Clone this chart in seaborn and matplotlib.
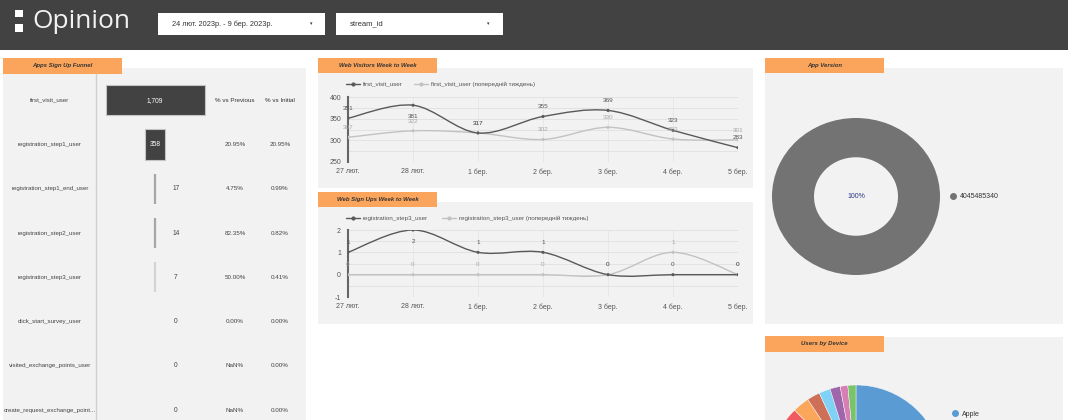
import numpy as np
import matplotlib.pyplot as plt
import matplotlib.patches as mpatches
import matplotlib.transforms as mtransforms
from matplotlib.path import Path
from matplotlib.lines import Line2D
from matplotlib.ticker import MultipleLocator
import seaborn as sns

# ---- data ----
funnel_steps = ['first_visit_user', 'registration_step1_user', 'registration_step1_end_user',
                'registration_step2_user', 'registration_step3_user', 'click_start_survey_user',
                'visited_exchange_points_user', 'create_request_exchange_point...']
funnel_users = [1709, 358, 17, 14, 7, 0, 0, 0]

days = ['27 лют.', '28 лют.', '1 бер.', '2 бер.', '3 бер.', '4 бер.', '5 бер.']
visitors = [351, 381, 317, 355, 369, 323, 283]
visitors_prev = [307, 322, 317, 302, 330, 303, 301]
signups = [1, 2, 1, 1, 0, 0, 0]
signups_prev = [0, 0, 0, 0, 0, 1, 0]

app_versions = ['4045485340']
app_version_users = [1709]

devices = ['Apple', 'Samsung', 'Xiaomi', 'Google', 'Huawei', 'OnePlus', 'Motorola',
           'Oppo', 'Realme', 'Nokia', 'Sony']
device_users = [472, 172, 117, 89, 28, 31, 24, 21, 19, 14, 15]
device_colors = ['#5a9bd4', '#737373', '#f0c44c', '#4fb6a5', '#f15a60', '#faa75b', '#ce7058',
                 '#7fd1f5', '#9e67ab', '#d77fb4', '#7ac36a']

sns.set_style('white')
plt.rcParams['font.family'] = ['Liberation Sans', 'DejaVu Sans']
plt.rcParams['axes.unicode_minus'] = False

W, H = 1068, 420
fig = plt.figure(figsize=(W / 100, H / 100), dpi=100)
fig.patch.set_facecolor('white')

PANEL = '#f2f2f2'
TAB = '#fba55c'
DARK = '#595959'
LIGHT = '#c2c2c2'


def box(x0, y0, x1, y1):
    return [x0 / W, 1 - y1 / H, (x1 - x0) / W, (y1 - y0) / H]


def rect(x0, y0, x1, y1, color):
    fig.add_artist(mpatches.Rectangle((x0 / W, 1 - y1 / H), (x1 - x0) / W, (y1 - y0) / H,
                                      transform=fig.transFigure, facecolor=color, lw=0, zorder=-1))


def ftext(x, y, s, **kw):
    fig.text(x / W, 1 - y / H, s, **kw)


def tab(x0, y0, x1, y1, title):
    rect(x0, y0, x1, y1, TAB)
    ftext((x0 + x1) / 2, (y0 + y1) / 2, title, ha='center', va='center', fontsize=4.3,
          fontweight='bold', fontstyle='italic', color='#333333')


# header
rect(0, 0, W, 50, '#424242')
rect(15, 10, 23, 17, 'white')
rect(15, 24, 23, 32, 'white')
ftext(32, 22, 'Opinion', ha='left', va='center', fontsize=19, color='#f2f2f2', family='Open Sans')
rect(158, 13, 325, 35, 'white')
ftext(172, 24, '24 лют. 2023р. - 9 бер. 2023р.', ha='left', va='center', fontsize=5.3, color='#333333')
ftext(311, 24, '▾', ha='center', va='center', fontsize=3.5, color='#333333', family='DejaVu Sans')
rect(336, 13, 503, 35, 'white')
ftext(350, 24, 'stream_id', ha='left', va='center', fontsize=5.5, color='#333333')
ftext(488, 24, '▾', ha='center', va='center', fontsize=3.5, color='#333333', family='DejaVu Sans')

# panels
rect(3, 68, 306, 420, PANEL)
tab(3, 58, 122, 74, 'Apps Sign Up Funnel')
rect(318, 68, 753, 188, PANEL)
tab(318, 58, 437, 73, 'Web Visitors Week to Week')
rect(318, 202, 753, 324, PANEL)
tab(318, 192, 437, 207, 'Web Sign Ups Week to Week')
rect(765, 68, 1063, 324, PANEL)
tab(765, 58, 884, 73, 'App Version')
rect(765, 337, 1063, 420, PANEL)
tab(765, 336, 884, 352, 'Users by Device')
fig.add_artist(Line2D([95.5 / W, 95.5 / W], [1 - 74 / H, 0], transform=fig.transFigure,
                      color='#cfcfcf', lw=1))

# ---- funnel ----
axf = fig.add_axes(box(100, 78, 210, 420))
users = np.array(funnel_users, dtype=float)
rows = np.arange(len(users))
half = users.max() / 2 * 55 / 49.5
big = users / users.max() * 99 > 15
small = (users > 0) & ~big
axf.barh(rows[big], users[big], left=-users[big] / 2, height=0.68, color='#424242',
         edgecolor='#c4c4c4', lw=0.8)
small_colors = ['#a6a6a6' if v > 10 else '#d4d4d4' for v in users[small]]
axf.barh(rows[small], users[small], left=-users[small] / 2, height=0.68, color=small_colors,
         edgecolor=small_colors, lw=1.6)
axf.set_xlim(-half, half)
axf.set_ylim(7.22, -0.5)
axf.axis('off')
trans = mtransforms.blended_transform_factory(fig.transFigure, axf.transData)
axf.text(235 / W, 0, '% vs Previous', transform=trans, ha='center', va='center', fontsize=4.5, color='#333333')
axf.text(280 / W, 0, '% vs Initial', transform=trans, ha='center', va='center', fontsize=4.5, color='#333333')
for i, (step, v) in enumerate(zip(funnel_steps, funnel_users)):
    axf.text(50 / W, i, step, transform=trans, ha='center', va='center', fontsize=4.4, color='#444444')
    if big[i]:
        axf.text(0, i, f'{v:,}', ha='center', va='center', fontsize=4.8, color='white')
    else:
        axf.annotate(f'{v:,}', (0, i), xytext=(15, 0), textcoords='offset points',
                     ha='center', va='center', fontsize=4.8, color='#444444')
    if i > 0:
        prev = funnel_users[i - 1]
        vs_prev = 'NaN%' if prev == 0 else f'{v / prev * 100:.2f}%'
        vs_init = f'{v / funnel_users[0] * 100:.2f}%'
        axf.text(235 / W, i, vs_prev, transform=trans, ha='center', va='center', fontsize=4.5, color='#444444')
        axf.text(280 / W, i, vs_init, transform=trans, ha='center', va='center', fontsize=4.5, color='#444444')


# ---- line charts ----
def smooth_path(ys):
    pts = np.column_stack([np.arange(len(ys)), ys]).astype(float)
    n = len(pts)
    verts, codes = [pts[0]], [Path.MOVETO]
    for i in range(n - 1):
        p0, p1 = pts[max(i - 1, 0)], pts[i]
        p2, p3 = pts[i + 1], pts[min(i + 2, n - 1)]
        verts += [p1 + (p2 - p0) / 6, p2 - (p3 - p1) / 6, p2]
        codes += [Path.CURVE4] * 3
    return Path(verts, codes)


def line_chart(rect_px, cur, prev, lims, major, minor, names, legend_y, col2):
    ax = fig.add_axes(box(*rect_px))
    ax.set_facecolor('none')
    x = np.arange(len(days))
    for ys, c in [(prev, LIGHT), (cur, DARK)]:
        ax.add_patch(mpatches.PathPatch(smooth_path(ys), fill=False, edgecolor=c, lw=1.0, zorder=3))
        sns.scatterplot(x=x, y=ys, ax=ax, color=c, s=5, edgecolor='none', zorder=4, legend=False)
    top = lims[1] - 0.15 * (lims[1] - lims[0])
    for ys, c in [(prev, '#a8a8a8'), (cur, '#555555')]:
        for xi, v in zip(x, ys):
            off = -8 if v >= top else 7
            ax.annotate(str(v), (xi, v), xytext=(0, off), textcoords='offset points',
                        ha='center', va='center', fontsize=4.6, color=c, zorder=5)
    ax.set_xlim(0, len(days) - 1)
    ax.set_ylim(*lims)
    ax.set_xticks(x, days)
    ax.yaxis.set_major_locator(MultipleLocator(major))
    ax.yaxis.set_minor_locator(MultipleLocator(minor))
    ax.grid(True, which='both', axis='y', color='#e0e0e0', lw=0.6)
    ax.grid(True, which='major', axis='x', color='#e6e6e6', lw=0.6)
    for s in ['top', 'right', 'bottom']:
        ax.spines[s].set_visible(False)
    ax.spines['left'].set_color('#666666')
    ax.spines['left'].set_linewidth(1.5)
    ax.tick_params(axis='both', which='both', length=0, labelsize=5, colors='#555555')
    ax.tick_params(axis='x', pad=4.5)
    ax.tick_params(axis='y', pad=5)
    ax.set_xlabel('')
    ax.set_ylabel('')
    handles = [Line2D([], [], color=DARK, lw=1, marker='o', ms=2),
               Line2D([], [], color=LIGHT, lw=1, marker='o', ms=2)]
    fig.legend(handles, names, loc='center left', bbox_to_anchor=(346 / W, 1 - legend_y / H),
               ncol=2, frameon=False, fontsize=4.5, handlelength=2.2, handletextpad=0.5,
               columnspacing=col2, borderpad=0, borderaxespad=0, labelcolor='#555555')
    return ax


line_chart((348, 97, 738, 162), visitors, visitors_prev, (250, 400), 50, 25,
           ['first_visit_user', 'first_visit_user (попередній тиждень)'], 84, 1.8)
line_chart((348, 230, 738, 297), signups, signups_prev, (-1, 2), 1, 0.5,
           ['registration_step3_user', 'registration_step3_user (попередній тиждень)'], 218, 2.2)

# ---- app version donut ----
axd = fig.add_axes(box(772, 118, 940, 275))
axd.pie(app_version_users, colors=['#737373'], startangle=90, counterclock=False,
        wedgeprops=dict(width=0.5, edgecolor='none'))
axd.set_aspect('auto')
axd.set_xlim(-1, 1)
axd.set_ylim(-1, 1)
axd.text(0, 0, f'{app_version_users[0] / sum(app_version_users):.0%}', ha='center', va='center',
         fontsize=5, color='#2b3a8c')
fig.legend([Line2D([], [], color='#737373', marker='o', ls='', ms=4)], app_versions,
           loc='center left', bbox_to_anchor=(950 / W, 1 - 197 / H), frameon=False, fontsize=5,
           handlelength=1, handletextpad=0.4, borderpad=0, borderaxespad=0, labelcolor='#333333')

# ---- users by device pie (cut off by the bottom edge) ----
axp = fig.add_axes(box(856 - 87.5, 385, 856 + 87.5, 560))
axp.pie(device_users, colors=device_colors, startangle=90, counterclock=False,
        wedgeprops=dict(edgecolor='white', linewidth=0.3))
axp.set_aspect('auto')
axp.set_xlim(-1, 1)
axp.set_ylim(-1, 1)
# only the first legend entry fits above the bottom edge
fig.legend([Line2D([], [], color=device_colors[0], marker='o', ls='', ms=4)], devices[:1],
           loc='center left', bbox_to_anchor=(952 / W, 1 - 414 / H), frameon=False, fontsize=5,
           handlelength=1, handletextpad=0.4, borderpad=0, borderaxespad=0, labelcolor='#333333')

fig.savefig('out.png', dpi=100)
